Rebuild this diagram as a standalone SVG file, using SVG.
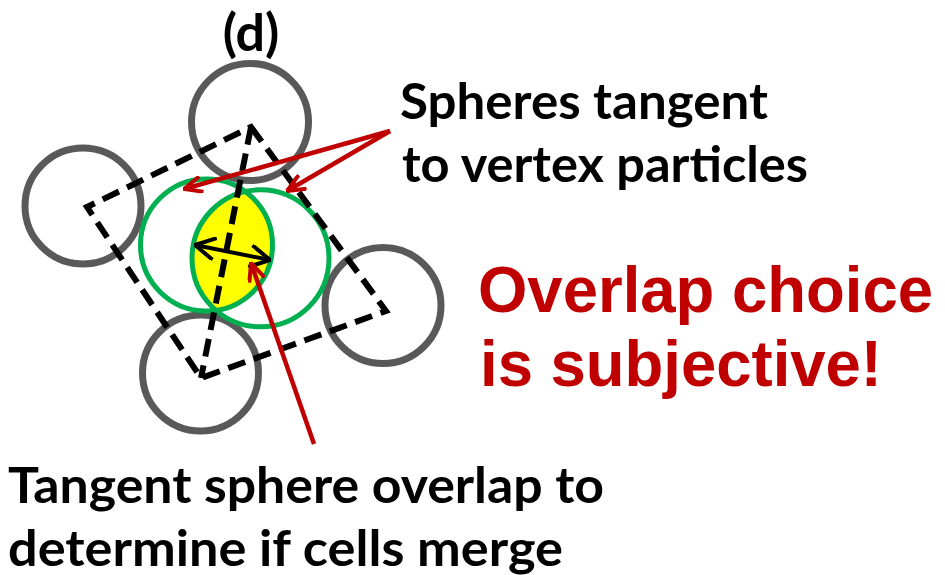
<svg xmlns="http://www.w3.org/2000/svg" width="945" height="575" viewBox="0 0 945 575">
<style>
.gray{fill:none;stroke:#595959;stroke-width:7}
.green{fill:none;stroke:#00B050;stroke-width:5}
.dash{fill:none;stroke:#000;stroke-width:6;stroke-dasharray:18 9;stroke-linejoin:miter}
.red{fill:none;stroke:#C00000;stroke-width:4.5}
.blk{fill:none;stroke:#000;stroke-width:4}
.lbl{font-family:Lato,"Open Sans","Liberation Sans",sans-serif;font-weight:bold;fill:#000;font-size:49px}
.big{font-family:"Liberation Sans",Arial,sans-serif;font-weight:bold;fill:#C00000;font-size:65px}
</style>
<defs>
<marker id="ra" viewBox="0 0 20 18" refX="19" refY="9" markerWidth="20" markerHeight="18" markerUnits="userSpaceOnUse" orient="auto">
<path d="M1,1 L19,9 L1,17" fill="none" stroke="#C00000" stroke-width="4"/>
</marker>
<marker id="ba" viewBox="0 0 22 24" refX="21" refY="12" markerWidth="22" markerHeight="24" markerUnits="userSpaceOnUse" orient="auto-start-reverse">
<path d="M1,1 L21,12 L1,23" fill="none" stroke="#000" stroke-width="4"/>
</marker>
<clipPath id="clipA"><circle cx="206.5" cy="245" r="66"/></clipPath>
</defs>
<g id="particles">
<circle id="p-top" class="gray" cx="250" cy="122" r="58.5"/>
<circle id="p-left" class="gray" cx="83" cy="206" r="58"/>
<circle id="p-right" class="gray" cx="383" cy="305.5" r="58"/>
<circle id="p-bottom" class="gray" cx="200.5" cy="373" r="58"/>
</g>
<g id="overlap">
<circle cx="260.5" cy="258.3" r="68.5" fill="#FFFF00" clip-path="url(#clipA)"/>
</g>
<g id="spheres">
<circle id="sphere-a" class="green" cx="206.5" cy="245" r="66"/>
<circle id="sphere-b" class="green" cx="260.5" cy="258.3" r="68.5"/>
</g>
<g id="cell">
<polygon class="dash" points="251,127 386,311 201,378 87,207"/>
<line class="dash" x1="251" y1="127" x2="201" y2="378"/>
</g>
<g id="connectors">
<line class="blk" x1="195" y1="245" x2="270" y2="260" marker-start="url(#ba)" marker-end="url(#ba)"/>
<line class="red" x1="390" y1="131" x2="184" y2="189" marker-end="url(#ra)"/>
<line class="red" x1="390" y1="131" x2="287" y2="191" marker-end="url(#ra)"/>
<line class="red" x1="314" y1="444" x2="251" y2="263" marker-end="url(#ra)"/>
</g>
<g id="labels">
<text class="lbl" x="251" y="51" text-anchor="middle" style="font-size:52px">(d)</text>
<text class="lbl" x="400" y="119" textLength="368" lengthAdjust="spacingAndGlyphs">Spheres tangent</text>
<text class="lbl" x="402" y="182" textLength="406" lengthAdjust="spacingAndGlyphs">to vertex particles</text>
<text class="lbl" x="8" y="503" textLength="596" lengthAdjust="spacingAndGlyphs">Tangent sphere overlap to</text>
<text class="lbl" x="8" y="566" textLength="555" lengthAdjust="spacingAndGlyphs">determine if cells merge</text>
<text class="big" x="478" y="312" textLength="455" lengthAdjust="spacingAndGlyphs">Overlap choice</text>
<text class="big" x="480" y="386" textLength="402" lengthAdjust="spacingAndGlyphs">is subjective!</text>
</g>
</svg>
